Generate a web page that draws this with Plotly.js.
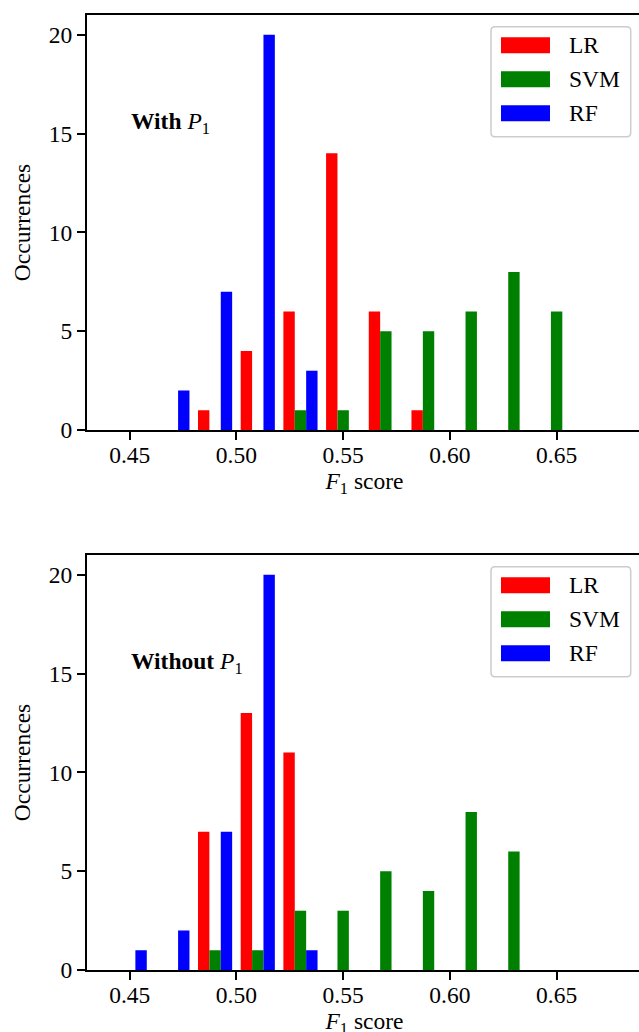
<!DOCTYPE html>
<html>
<head>
<meta charset="utf-8">
<script src="https://cdn.plot.ly/plotly-3.0.1.min.js"></script>
<style>
  html, body { margin: 0; padding: 0; overflow: hidden; background: #fff; }
  #chart { width: 700px; height: 1060px; }
</style>
</head>
<body>
<div id="chart"></div>
<script>
// ---- data ----
const binCenters = [0.45, 0.47, 0.49, 0.51, 0.53, 0.55, 0.57, 0.59, 0.61, 0.63, 0.65];
const seriesNames = ["LR", "SVM", "RF"];
const seriesColors = ["#ff0000", "#008000", "#0000ff"];

const withLR  = [0, 0, 1, 4, 6, 14, 6, 1, 0, 0, 0];
const withSVM = [0, 0, 0, 0, 1, 1, 5, 5, 6, 8, 6];
const withRF  = [0, 2, 7, 20, 3, 0, 0, 0, 0, 0, 0];

const withoutLR  = [0, 0, 7, 13, 11, 0, 0, 0, 0, 0, 0];
const withoutSVM = [0, 0, 1, 1, 3, 3, 5, 4, 8, 6, 0];
const withoutRF  = [1, 2, 7, 20, 1, 0, 0, 0, 0, 0, 0];

const xTicks = [0.45, 0.50, 0.55, 0.60, 0.65];
const yTicks = [0, 5, 10, 15, 20];
const panelLabels = ["<b>With</b> <i>P</i><sub>1</sub>", "<b>Without</b> <i>P</i><sub>1</sub>"];
const xTitle = "<i>F</i><sub>1</sub> score";
const yTitle = "Occurrences";

// ---- styling ----
const FONT = "Liberation Serif";
const FS = 23.5;
const W = 700, H = 1060;
const M = {l: 87, r: 58, t: 15, b: 90};
const PW = W - M.l - M.r, PH = H - M.t - M.b;
const px2x = px => (px - M.l) / PW;
const py2y = py => (H - M.b - py) / PH;

const panels = [
  {vals: [withLR, withSVM, withRF], xa: "x", ya: "y"},
  {vals: [withoutLR, withoutSVM, withoutRF], xa: "x2", ya: "y2"}
];

const traces = [];
panels.forEach(p => {
  p.vals.forEach((v, i) => {
    traces.push({
      type: "bar", x: binCenters, y: v, name: seriesNames[i],
      marker: {color: seriesColors[i], line: {width: 0}},
      xaxis: p.xa, yaxis: p.ya, showlegend: false, hoverinfo: "x+y+name"
    });
  });
});

function xAxis(anchor) {
  return {
    anchor: anchor, domain: [0, 1], range: [0.43, 0.69],
    tickvals: xTicks, tickformat: ".2f",
    ticks: "outside", ticklen: 8, tickwidth: 2, tickcolor: "#000",
    showline: true, linecolor: "#000", linewidth: 2, mirror: true,
    showgrid: false, zeroline: false, automargin: false,
    tickfont: {family: FONT, size: FS, color: "#000"},
    ticklabelstandoff: -5,
    title: {text: xTitle, font: {family: FONT, size: FS, color: "#000"}, standoff: 4}
  };
}
function yAxis(anchor, domain) {
  return {
    anchor: anchor, domain: domain, range: [0, 21],
    tickvals: yTicks,
    ticks: "outside", ticklen: 8, tickwidth: 2, tickcolor: "#000",
    showline: true, linecolor: "#000", linewidth: 2, mirror: true,
    showgrid: false, zeroline: false, automargin: false,
    tickfont: {family: FONT, size: FS, color: "#000"},
    ticklabelstandoff: 0,
    title: {text: yTitle, font: {family: FONT, size: FS, color: "#000"}, standoff: 12}
  };
}

const topDomain = [py2y(430), 1];
const botDomain = [0, py2y(555)];

// ---- legends (drawn as shapes + text) ----
const shapes = [];
const annotations = [];
function roundRect(x0p, y0p, x1p, y1p, r) {
  const x0 = px2x(x0p), x1 = px2x(x1p), yT = py2y(y0p), yB = py2y(y1p);
  const rx = r / PW, ry = r / PH;
  return `M${x0 + rx},${yT} L${x1 - rx},${yT} Q${x1},${yT} ${x1},${yT - ry} ` +
         `L${x1},${yB + ry} Q${x1},${yB} ${x1 - rx},${yB} L${x0 + rx},${yB} ` +
         `Q${x0},${yB} ${x0},${yB + ry} L${x0},${yT - ry} Q${x0},${yT} ${x0 + rx},${yT} Z`;
}
[0, 540].forEach(off => {
  shapes.push({type: "path", xref: "paper", yref: "paper",
    path: roundRect(491, 26.7 + off, 630.7, 136.7 + off, 4),
    line: {color: "#cccccc", width: 1.5}, fillcolor: "rgba(255,255,255,0.8)", layer: "above"});
  seriesNames.forEach((n, i) => {
    const top = 37.3 + 34 * i + off;
    shapes.push({type: "rect", xref: "paper", yref: "paper",
      x0: px2x(501), x1: px2x(550), y0: py2y(top + 16), y1: py2y(top),
      line: {width: 0}, fillcolor: seriesColors[i], layer: "above"});
    annotations.push({xref: "paper", yref: "paper", x: px2x(568), y: py2y(top + 8),
      xanchor: "left", yanchor: "middle", showarrow: false, text: n, borderpad: 0,
      font: {family: FONT, size: FS, color: "#000"}});
  });
});

// panel labels
annotations.push({xref: "x", yref: "y", x: 0.45, y: 15.55, xanchor: "left", yanchor: "middle",
  showarrow: false, text: panelLabels[0], borderpad: 0, font: {family: FONT, size: FS, color: "#000"}});
annotations.push({xref: "x2", yref: "y2", x: 0.45, y: 15.55, xanchor: "left", yanchor: "middle",
  showarrow: false, text: panelLabels[1], borderpad: 0, font: {family: FONT, size: FS, color: "#000"}});

const layout = {
  width: W, height: H, margin: M,
  paper_bgcolor: "#fff", plot_bgcolor: "#fff",
  barmode: "group", bargap: 0.2, bargroupgap: 0,
  showlegend: false,
  font: {family: FONT, size: FS, color: "#000"},
  xaxis: xAxis("y"), yaxis: yAxis("x", topDomain),
  xaxis2: xAxis("y2"), yaxis2: yAxis("x2", botDomain),
  shapes: shapes, annotations: annotations
};

Plotly.newPlot("chart", traces, layout, {displayModeBar: false, staticPlot: true});
</script>
</body>
</html>
